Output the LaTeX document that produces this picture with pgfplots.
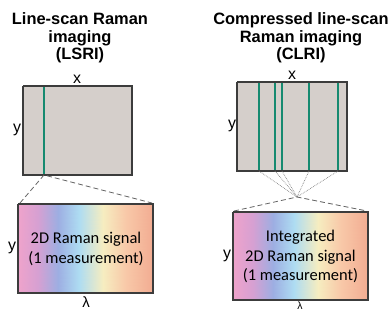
\documentclass[border=0pt]{standalone}
\usepackage{fontspec}
\setmainfont{Liberation Sans}
\newfontfamily\calibri{Carlito}
\usepackage{pgfplots}
\pgfplotsset{compat=1.18}
\definecolor{boxgray}{RGB}{213,207,203}
\definecolor{edge}{RGB}{60,60,60}
\definecolor{lgreen}{RGB}{22,138,112}
\begin{document}
\begin{tikzpicture}
\path[use as bounding box, clip] (0,0) rectangle (390bp,310bp);
\begin{axis}[
  at={(0,0)}, anchor=south west,
  width=390bp, height=310bp, scale only axis,
  xmin=0, xmax=390, ymin=0, ymax=310, y dir=reverse,
  hide axis, clip=false,
  colormap={raman}{rgb255(0cm)=(239,163,203); rgb255(1.3cm)=(214,160,210); rgb255(3cm)=(157,174,226); rgb255(4.5cm)=(174,220,242); rgb255(6.3cm)=(246,237,192); rgb255(8cm)=(248,200,168); rgb255(10cm)=(242,172,146)},
  point meta min=0, point meta max=1,
]
% invisible frame
\addplot[draw=none] coordinates {(0,0) (390,310)};

% ---------- left panel ----------
\addplot[fill=boxgray, draw=edge, line width=1.2bp] coordinates {(23,86) (132,86) (132,175) (23,175) (23,86)};
\addplot[lgreen, line width=2bp] coordinates {(44,87) (44,174)};
\addplot[edge!80, dash pattern=on 5bp off 3bp, line width=0.8bp] coordinates {(20,203) (44,175) (152,203)};

\addplot[surf, shader=interp, mesh/rows=2, point meta=explicit] coordinates {
(18,204) [0] (38.25,204) [0.13] (58.5,204) [0.3] (78.75,204) [0.45] (103.05,204) [0.63] (126,204) [0.8] (153,204) [1]

(18,293) [0] (38.25,293) [0.13] (58.5,293) [0.3] (78.75,293) [0.45] (103.05,293) [0.63] (126,293) [0.8] (153,293) [1]
};
\addplot[draw=edge, line width=1.2bp] coordinates {(18,204) (153,204) (153,293) (18,293) (18,204)};

% ---------- right panel ----------
\addplot[fill=boxgray, draw=edge, line width=1.2bp] coordinates {(237,82) (347,82) (347,171) (237,171) (237,82)};
\addplot[lgreen, line width=2bp] coordinates {(259,83) (259,170)};
\addplot[lgreen, line width=2bp] coordinates {(275,83) (275,170)};
\addplot[lgreen, line width=2bp] coordinates {(282,83) (282,170)};
\addplot[lgreen, line width=2bp] coordinates {(309,83) (309,170)};
\addplot[lgreen, line width=2bp] coordinates {(338,83) (338,170)};
\addplot[gray, densely dotted, line width=0.7bp] coordinates {(259,171) (297,197)};
\addplot[gray, densely dotted, line width=0.7bp] coordinates {(275,171) (297,197)};
\addplot[gray, densely dotted, line width=0.7bp] coordinates {(282,171) (297,197)};
\addplot[gray, densely dotted, line width=0.7bp] coordinates {(309,171) (297,197)};
\addplot[gray, densely dotted, line width=0.7bp] coordinates {(338,171) (297,197)};
\addplot[edge!80, dash pattern=on 5bp off 3bp, line width=0.8bp] coordinates {(234,211) (297,197) (367,211)};

\addplot[surf, shader=interp, mesh/rows=2, point meta=explicit] coordinates {
(233,212) [0] (253.25,212) [0.13] (273.5,212) [0.3] (293.75,212) [0.45] (318.05,212) [0.63] (341,212) [0.8] (368,212) [1]

(233,300) [0] (253.25,300) [0.13] (273.5,300) [0.3] (293.75,300) [0.45] (318.05,300) [0.63] (341,300) [0.8] (368,300) [1]
};
\addplot[draw=edge, line width=1.2bp] coordinates {(233,212) (368,212) (368,300) (233,300) (233,212)};

% ---------- text ----------
\node[font=\fontsize{16.5}{17.5}\selectfont\bfseries, align=center] at (axis cs:80,38) {Line-scan Raman\\imaging\\(LSRI)};
\node[font=\fontsize{16.5}{17.5}\selectfont\bfseries, align=center] at (axis cs:301,38) {Compressed line-scan\\Raman imaging\\(CLRI)};

\node[font=\fontsize{16}{18}\selectfont] at (axis cs:77,79) {x};
\node[font=\fontsize{16}{18}\selectfont] at (axis cs:17,130) {y};
\node[font=\fontsize{16}{18}\selectfont] at (axis cs:292,75) {x};
\node[font=\fontsize{16}{18}\selectfont] at (axis cs:232,126) {y};

\node[font=\calibri\fontsize{16.5}{20}\selectfont, align=center] at (axis cs:86,249) {2D Raman signal\\(1 measurement)};
\node[font=\fontsize{16}{18}\selectfont] at (axis cs:12,248) {y};
\node[font=\fontsize{15}{18}\selectfont] at (axis cs:86,302) {λ};

\node[font=\calibri\fontsize{16.5}{20}\selectfont, align=center] at (axis cs:300.5,256.5) {Integrated\\2D Raman signal\\(1 measurement)};
\node[font=\fontsize{16}{18}\selectfont] at (axis cs:227,256) {y};
\node[font=\fontsize{10.5}{12}\selectfont, inner sep=0pt, anchor=south] at (axis cs:300,309.5) {λ};
\end{axis}
\end{tikzpicture}
\end{document}
